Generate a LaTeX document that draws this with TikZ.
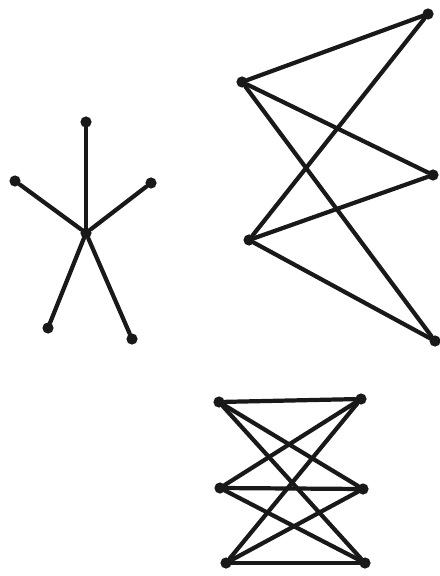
\documentclass[tikz,border=0pt]{standalone}
\usepackage{tikz}
\usetikzlibrary{positioning}
\tikzset{
    gvertex/.style={circle, fill=black!90, inner sep=0pt, minimum size=2.8mm},
    gedge/.style={line width=3pt, draw=black!90, line cap=round}
}

\begin{document}
\begin{tikzpicture}[x=0.025cm, y=-0.025cm]
    \useasboundingbox (0,0) rectangle (439,576);

    % Star graph
    \node[gvertex] (c) at (86,233) {};
    \node[gvertex] (s1) at (86,122) {};
    \node[gvertex] (s2) at (15,181) {};
    \node[gvertex] (s3) at (151,183) {};
    \node[gvertex] (s4) at (48,328) {};
    \node[gvertex] (s5) at (132,339) {};
    \foreach \s in {s1,s2,s3,s4,s5}
        \draw[gedge] (c) -- (\s);

    % Bipartite graph with two and three vertices
    \node[gvertex] (a1) at (242,82) {};
    \node[gvertex] (a2) at (249,240) {};
    \node[gvertex] (b1) at (428,14) {};
    \node[gvertex] (b2) at (433,175) {};
    \node[gvertex] (b3) at (435,341) {};
    \foreach \a in {a1,a2}
        \foreach \b in {b1,b2,b3}
            \draw[gedge] (\a) -- (\b);

    % Bipartite graph with three and three vertices
    \node[gvertex] (l1) at (219,402) {};
    \node[gvertex] (l2) at (220,488) {};
    \node[gvertex] (l3) at (226,563) {};
    \node[gvertex] (r1) at (361,399) {};
    \node[gvertex] (r2) at (363,489) {};
    \node[gvertex] (r3) at (365,563) {};
    \foreach \l in {l1,l2,l3}
        \foreach \r in {r1,r2,r3}
            \draw[gedge] (\l) -- (\r);
\end{tikzpicture}
\end{document}
